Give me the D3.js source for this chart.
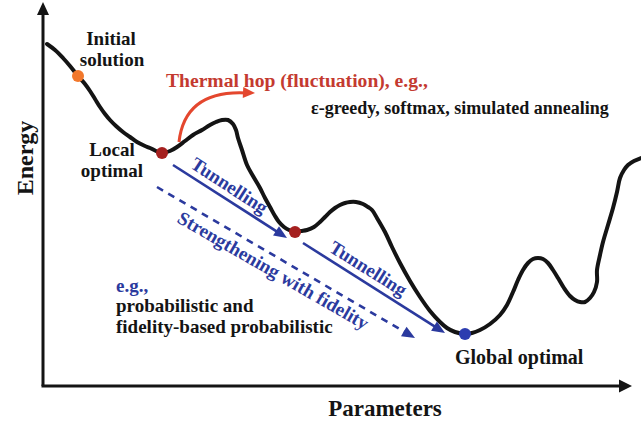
<!DOCTYPE html>
<html>
<head>
<meta charset="utf-8">
<script src="https://cdn.jsdelivr.net/npm/d3@7"></script>
<style>
  html, body { margin: 0; padding: 0; background: #fff; }
  svg { display: block; }
</style>
</head>
<body>
<svg id="chart" width="641" height="424"></svg>
<script>
// ---- Data (abstract units: parameter along x, energy along y) ----
const curveParam = [4,12,20,27,35,42,47,52,57,62,67,73,80,87,94,102,107,113,119,127,134,142,150,159,167,173,179,185,190,193,195,199,204,210,217,222,227,232,236,241,246,252,258,264,271,277,282,287,292,297,302,307,313,320,325,329,334,342,349,357,367,377,387,397,404,412,422,429,437,447,457,464,470,475,480,485,490,495,500,505,510,515,521,527,532,537,542,547,551,554,554,557,560,565,570,574,577,581,585,591,598];
const curveEnergy = [342,336,328,320,310,302,295,287,279,272,266,260,254,249,244,240,238,235,233,235,239,245,251,256,261,264,266,266,262,256,248,236,221,210,198,188,179,170,164,159,156,154,155,156,159,164,169,174,178,181,183,184,184,182,179,176,168,154,139,123,105,89,75,64,58,54,52,53,56,62,71,81,94,106,116,123,127,128,127,123,116,108,98,90,86,84,84,88,94,104,116,131,144,161,178,194,208,216,221,225,228];

const dotNames  = ["initial", "local", "local2", "global"];
const dotParam  = [35, 119, 252, 422];
const dotEnergy = [310, 233, 154, 52];

const arrowNames   = ["tunnel1", "tunnel2", "fidelity"];
const arrowParam0  = [130, 260, 114];
const arrowEnergy0 = [221, 143, 199];
const arrowParam1  = [244, 402, 372];
const arrowEnergy1 = [148, 53, 48];

// thermal hop arc: start, control, end (tip)
const hopParam  = [136, 142, 212];
const hopEnergy = [244, 296, 293];

const axisLabels = ["Parameters", "Energy"];

// ---- Drawing ----
const FONT = "'Liberation Serif', 'Times New Roman', 'DejaVu Serif', serif";
const svg = d3.select("#chart");
const x = d3.scaleLinear().domain([0, 590]).range([43, 633]);
const y = d3.scaleLinear().domain([0, 384]).range([386, 2]);

const BLUE = "#2b3a9e", RED = "#c43a30", ARC = "#e4472e", BLACK = "#141414";

function headPoints(tx, ty, ang, len, half) {
  const bx = tx - len * Math.cos(ang), by = ty - len * Math.sin(ang);
  const px = -Math.sin(ang) * half, py = Math.cos(ang) * half;
  return [[tx, ty], [bx + px, by + py], [bx - px, by - py]];
}

// axes
const ax = svg.append("g");
ax.append("line").attr("x1", x(0)).attr("y1", y(0)).attr("x2", x(0)).attr("y2", y(372))
  .attr("stroke", BLACK).attr("stroke-width", 3);
ax.append("polygon").attr("points", headPoints(x(0), y(384), -Math.PI / 2, 13, 6).join(" ")).attr("fill", BLACK);
ax.append("line").attr("x1", x(0) - 1.5).attr("y1", y(0)).attr("x2", x(578)).attr("y2", y(0))
  .attr("stroke", BLACK).attr("stroke-width", 3);
ax.append("polygon").attr("points", headPoints(x(589), y(0), 0, 13, 6.5).join(" ")).attr("fill", BLACK);

// energy curve
const pts = curveParam.map((p, i) => [x(p), y(curveEnergy[i])]);
svg.append("path").attr("d", d3.line().curve(d3.curveCatmullRom.alpha(0.5))(pts))
  .attr("fill", "none").attr("stroke", BLACK).attr("stroke-width", 4)
  .attr("stroke-linecap", "round").attr("stroke-linejoin", "round");

// thermal hop arc
const hp = hopParam.map((p, i) => [x(p), y(hopEnergy[i])]);
const arcEnd = [hp[2][0] - 9, hp[2][1]];
svg.append("path")
  .attr("d", `M${hp[0][0]},${hp[0][1]} Q${hp[1][0]},${hp[1][1]} ${arcEnd[0]},${arcEnd[1]}`)
  .attr("fill", "none").attr("stroke", ARC).attr("stroke-width", 3);
svg.append("polygon")
  .attr("points", headPoints(hp[2][0], hp[2][1], Math.atan2(arcEnd[1] - hp[1][1], arcEnd[0] - hp[1][0]), 12, 5.5).join(" "))
  .attr("fill", ARC);

// tunnelling arrows
arrowNames.forEach((n, i) => {
  const x0 = x(arrowParam0[i]), y0 = y(arrowEnergy0[i]);
  const x1 = x(arrowParam1[i]), y1 = y(arrowEnergy1[i]);
  const ang = Math.atan2(y1 - y0, x1 - x0);
  const L = 11;
  svg.append("line")
    .attr("x1", x0).attr("y1", y0)
    .attr("x2", x1 - L * Math.cos(ang)).attr("y2", y1 - L * Math.sin(ang))
    .attr("stroke", BLUE).attr("stroke-width", 2.6)
    .attr("stroke-dasharray", n === "fidelity" ? "7,6" : null);
  svg.append("polygon").attr("points", headPoints(x1, y1, ang, 13, 5.5).join(" ")).attr("fill", BLUE);
});

// dots
const dotColor = { initial: "#f2782c", local: "#a5201f", local2: "#a5201f", global: "#2d3db0" };
svg.selectAll("circle.dot").data(dotNames).enter().append("circle")
  .attr("class", "dot")
  .attr("cx", (d, i) => x(dotParam[i])).attr("cy", (d, i) => y(dotEnergy[i]))
  .attr("r", 6).attr("fill", d => dotColor[d]);

// labels
function label(t, px, py, size, color, anchor, rot) {
  const el = svg.append("text").text(t)
    .attr("font-family", FONT).attr("font-weight", "bold")
    .attr("font-size", size).attr("fill", color)
    .attr("text-anchor", anchor || "start");
  if (rot) el.attr("transform", `translate(${px},${py}) rotate(${rot})`);
  else el.attr("x", px).attr("y", py);
  return el;
}
label("Initial", 111, 45, 19, BLACK, "middle");
label("solution", 112, 66, 19, BLACK, "middle");
label("Local", 112, 156, 19, BLACK, "middle");
label("optimal", 112, 177, 19, BLACK, "middle");
label("Thermal hop (fluctuation), e.g.,", 166, 87, 19.6, RED);
label("ε-greedy, softmax, simulated annealing", 311, 114, 18, BLACK);
label("Tunnelling", 226, 191, 19, BLUE, "middle", 33);
label("Tunnelling", 365, 274, 19, BLUE, "middle", 32);
label("Strengthening with fidelity", 270, 276, 19, BLUE, "middle", 30);
label("e.g.,", 116, 292, 19, BLUE);
label("probabilistic and", 116, 312, 19, BLACK);
label("fidelity-based probabilistic", 116, 333, 19, BLACK);
label("Global optimal", 455, 364, 20, BLACK);
label(axisLabels[0], 385, 416, 23, BLACK, "middle");
label(axisLabels[1], 33, 158, 24, BLACK, "middle", -90);
</script>
</body>
</html>
